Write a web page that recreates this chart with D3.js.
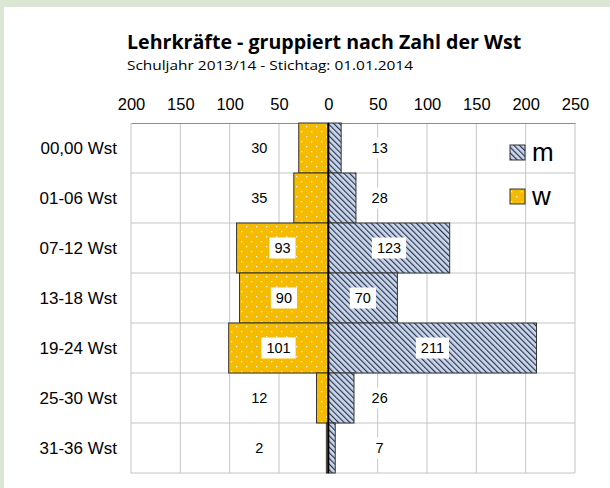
<!DOCTYPE html>
<html>
<head>
<meta charset="utf-8">
<script src="https://cdn.jsdelivr.net/npm/d3@7"></script>
<style>
  body { margin: 0; background: #dbe7d4; }
  svg { display: block; }
</style>
</head>
<body>
<div id="chart"></div>
<script>
// data
const categories = ["00,00 Wst", "01-06 Wst", "07-12 Wst", "13-18 Wst", "19-24 Wst", "25-30 Wst", "31-36 Wst"];
const wValues = [30, 35, 93, 90, 101, 12, 2];
const mValues = [13, 28, 123, 70, 211, 26, 7];
const tickValues = [-200, -150, -100, -50, 0, 50, 100, 150, 200, 250];

const width = 610, height = 488;
const margins = {left: 131, right: 35, top: 123, bottom: 15};
const labelFont = "'Liberation Sans', Arial, sans-serif";

const svg = d3.select("#chart").append("svg")
    .attr("width", width)
    .attr("height", height);

// white panel over the green background
svg.append("rect")
    .attr("x", 4).attr("y", 7)
    .attr("width", width - 4).attr("height", height - 7)
    .attr("fill", "#fff");

const defs = svg.append("defs");
// m: diagonal stripes
const pm = defs.append("pattern")
    .attr("id", "pat-m")
    .attr("patternUnits", "userSpaceOnUse")
    .attr("width", 4).attr("height", 4)
    .attr("patternTransform", "rotate(-45)");
pm.append("rect").attr("width", 4).attr("height", 4).attr("fill", "#cdd9ea");
pm.append("rect").attr("width", 1.2).attr("height", 4).attr("fill", "#2a3656");
// w: gold with white dots
const pw = defs.append("pattern")
    .attr("id", "pat-w")
    .attr("patternUnits", "userSpaceOnUse")
    .attr("width", 10).attr("height", 10);
pw.append("rect").attr("width", 10).attr("height", 10).attr("fill", "#f5bb00");
pw.append("rect").attr("x", 1).attr("y", 1).attr("width", 1.3).attr("height", 1.3).attr("fill", "#fff8e0");
pw.append("rect").attr("x", 6).attr("y", 6).attr("width", 1.3).attr("height", 1.3).attr("fill", "#fff8e0");

// title
svg.append("text")
    .attr("x", 127).attr("y", 49)
    .style("font-family", "'Open Sans', sans-serif")
    .style("font-weight", "bold")
    .style("font-size", "19.6px")
    .text("Lehrkräfte - gruppiert nach Zahl der Wst");
svg.append("text")
    .attr("x", 127).attr("y", 70)
    .attr("textLength", 286)
    .attr("lengthAdjust", "spacingAndGlyphs")
    .style("font-family", "'Open Sans', sans-serif")
    .style("font-size", "13px")
    .text("Schuljahr 2013/14 - Stichtag: 01.01.2014");

const x = d3.scaleLinear()
    .domain([-200, 250])
    .range([margins.left, width - margins.right]);
const y = d3.scaleBand()
    .domain(categories)
    .range([margins.top, height - margins.bottom]);

// grid
const g = svg.append("g");
g.selectAll(".vgrid").data(tickValues).enter()
    .append("line")
    .attr("x1", d => x(d)).attr("x2", d => x(d))
    .attr("y1", y.range()[0]).attr("y2", y.range()[1])
    .attr("stroke", "#c4c4c4");
const rowEdges = categories.slice(1).map(c => y(c)).concat([y.range()[1]]);
g.selectAll(".hgrid").data(rowEdges).enter()
    .append("line")
    .attr("x1", x(-200)).attr("x2", x(250))
    .attr("y1", d => d).attr("y2", d => d)
    .attr("stroke", "#c4c4c4");

// top axis
const axis = svg.append("g")
    .attr("transform", "translate(0," + margins.top + ")")
    .call(d3.axisTop(x).tickValues(tickValues).tickFormat(d => Math.abs(d)).tickSize(0).tickPadding(13));
axis.select(".domain").attr("stroke", "#8c8c8c");
axis.selectAll("text")
    .style("font-family", labelFont)
    .style("font-size", "16.5px")
    .attr("fill", "#000");

// category labels
svg.selectAll(".cat").data(categories).enter()
    .append("text")
    .attr("x", 117)
    .attr("y", d => y(d) + y.bandwidth() / 2)
    .attr("dy", "0.35em")
    .attr("text-anchor", "end")
    .style("font-family", labelFont)
    .style("font-size", "17px")
    .text(d => d);

// bars
svg.selectAll(".bar-w").data(wValues).enter()
    .append("rect")
    .attr("x", d => x(-d))
    .attr("y", (d, i) => y(categories[i]))
    .attr("width", d => x(0) - x(-d))
    .attr("height", y.bandwidth())
    .attr("fill", "url(#pat-w)")
    .attr("stroke", "#333")
    .attr("stroke-width", 1);
svg.selectAll(".bar-m").data(mValues).enter()
    .append("rect")
    .attr("x", x(0))
    .attr("y", (d, i) => y(categories[i]))
    .attr("width", d => x(d) - x(0))
    .attr("height", y.bandwidth())
    .attr("fill", "url(#pat-m)")
    .attr("stroke", "#333")
    .attr("stroke-width", 1);

// zero line
svg.append("line")
    .attr("x1", x(0)).attr("x2", x(0))
    .attr("y1", y.range()[0]).attr("y2", y.range()[1])
    .attr("stroke", "#000").attr("stroke-width", 2);

// value labels
function labels(values, side) {
    values.forEach((v, i) => {
        let cx;
        if (v >= 50) cx = side < 0 ? x(-v / 2) : x(v / 2);
        else cx = side < 0 ? x(-70) : x(52);
        const cy = y(categories[i]) + y.bandwidth() / 2;
        const lg = svg.append("g");
        const t = lg.append("text")
            .attr("x", cx).attr("y", cy)
            .attr("dy", "0.35em")
            .attr("text-anchor", "middle")
            .style("font-family", labelFont)
            .style("font-size", "14.5px")
            .text(v);
        const w = t.node().getComputedTextLength() + 10;
        lg.insert("rect", "text")
            .attr("x", cx - w / 2).attr("y", cy - 10.5)
            .attr("width", w).attr("height", 21)
            .attr("fill", "#fff");
    });
}
labels(wValues, -1);
labels(mValues, 1);

// legend
const legend = [["m", "url(#pat-m)", 145], ["w", "url(#pat-w)", 189]];
legend.forEach(([name, fill, ly]) => {
    svg.append("rect")
        .attr("x", 510).attr("y", ly)
        .attr("width", 15).attr("height", 15)
        .attr("fill", fill)
        .attr("stroke", "#333");
    svg.append("text")
        .attr("x", 532).attr("y", ly + 16)
        .style("font-family", labelFont)
        .style("font-size", "26px")
        .text(name);
});
</script>
</body>
</html>
